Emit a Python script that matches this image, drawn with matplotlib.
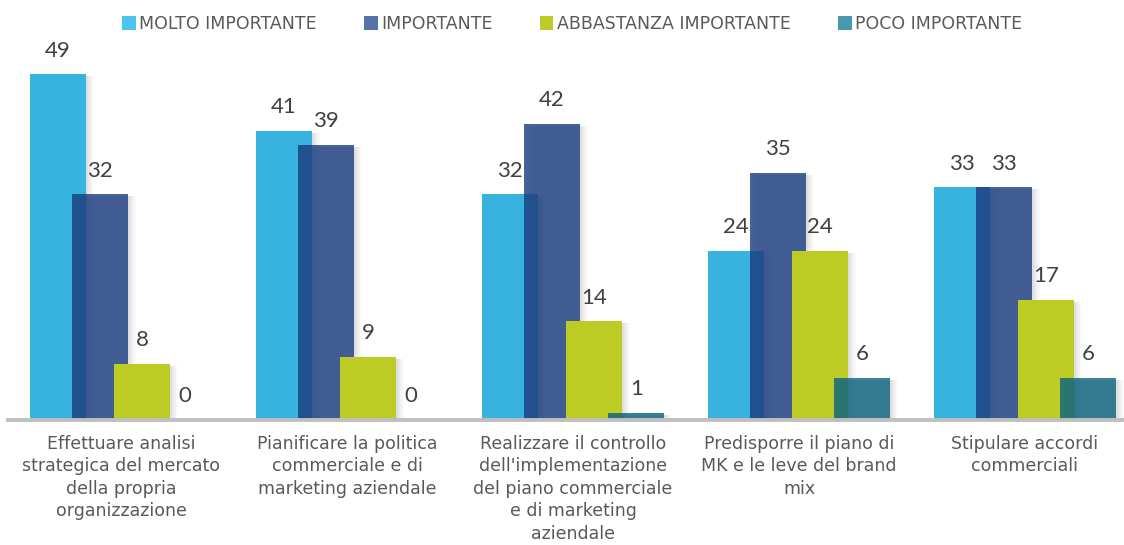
import matplotlib
matplotlib.use("Agg")
import matplotlib.pyplot as plt
from matplotlib.patches import Patch
import numpy as np

categories = [
    "Effettuare analisi\nstrategica del mercato\ndella propria\norganizzazione",
    "Pianificare la politica\ncommerciale e di\nmarketing aziendale",
    "Realizzare il controllo\ndell'implementazione\ndel piano commerciale\ne di marketing\naziendale",
    "Predisporre il piano di\nMK e le leve del brand\nmix",
    "Stipulare accordi\ncommerciali",
]
series_names = ["MOLTO IMPORTANTE", "IMPORTANTE", "ABBASTANZA IMPORTANTE", "POCO IMPORTANTE"]
molto = [49, 41, 32, 24, 33]
importante = [32, 39, 42, 35, 33]
abbastanza = [8, 9, 14, 24, 17]
poco = [0, 0, 1, 6, 6]
series_values = [molto, importante, abbastanza, poco]

colors = ["#38b2de", "#183c81", "#bccc24", "#09637f"]
alphas = [1.0, 0.8, 1.0, 0.8]
legend_colors = ["#4cc4ee", "#5673a8", "#bccc24", "#4a97b0"]

plt.rcParams['font.family'] = ['DejaVu Sans']
text_color = "#595959"

fig = plt.figure(figsize=(11.24, 5.45), dpi=100)
ax = fig.add_axes([8 / 1124, 125 / 545, 1 - 8 / 1124, 388 / 545])

x = np.arange(len(categories))
step = 0.1872
width = 0.2478
px = 1 / 226.0
offsets = (np.arange(4) - 1.5) * step

for i, vals in enumerate(series_values):
    xs = x + offsets[i]
    # soft shadow to the right
    for k, a in zip([2, 4, 6, 8], [0.10, 0.08, 0.06, 0.04]):
        ax.bar(xs + k * px, np.maximum(np.array(vals) - 0.3, 0), width=width,
               color="#808080", alpha=a, linewidth=0, zorder=1 + i * 2)
    ax.bar(xs, vals, width=width, color=colors[i], alpha=alphas[i],
           linewidth=0, zorder=2 + i * 2)
    for xv, v in zip(xs, vals):
        ax.annotate(str(v), (xv, v), xytext=(0, 17), textcoords="offset points",
                    ha="center", va="center", fontsize=16, color="#404040",
                    family=["Lato", "DejaVu Sans"], zorder=20)

ax.set_xlim(-0.5, (1124 - 121) / 226)
ax.set_ylim(0, 55)
for s in ["top", "right", "left"]:
    ax.spines[s].set_visible(False)
ax.spines["bottom"].set_color("#bfbfbf")
ax.spines["bottom"].set_linewidth(2.8)
ax.spines["bottom"].set_zorder(30)
ax.set_yticks([])
ax.set_xticks(x)
ax.set_xticklabels(categories, fontsize=12.5, color=text_color, linespacing=1.32,
                   va="top")
ax.tick_params(axis="x", length=0, pad=10.5)

handles = [Patch(facecolor=c, edgecolor="none") for c in legend_colors]
fig.legend(handles, series_names, loc="center", bbox_to_anchor=(572 / 1124, 1 - 24 / 545),
           ncol=4, frameon=False, fontsize=12.5, labelcolor=text_color,
           handlelength=0.8, handleheight=0.8, handletextpad=0.2, columnspacing=2.7)

fig.savefig("out.png", dpi=100)
